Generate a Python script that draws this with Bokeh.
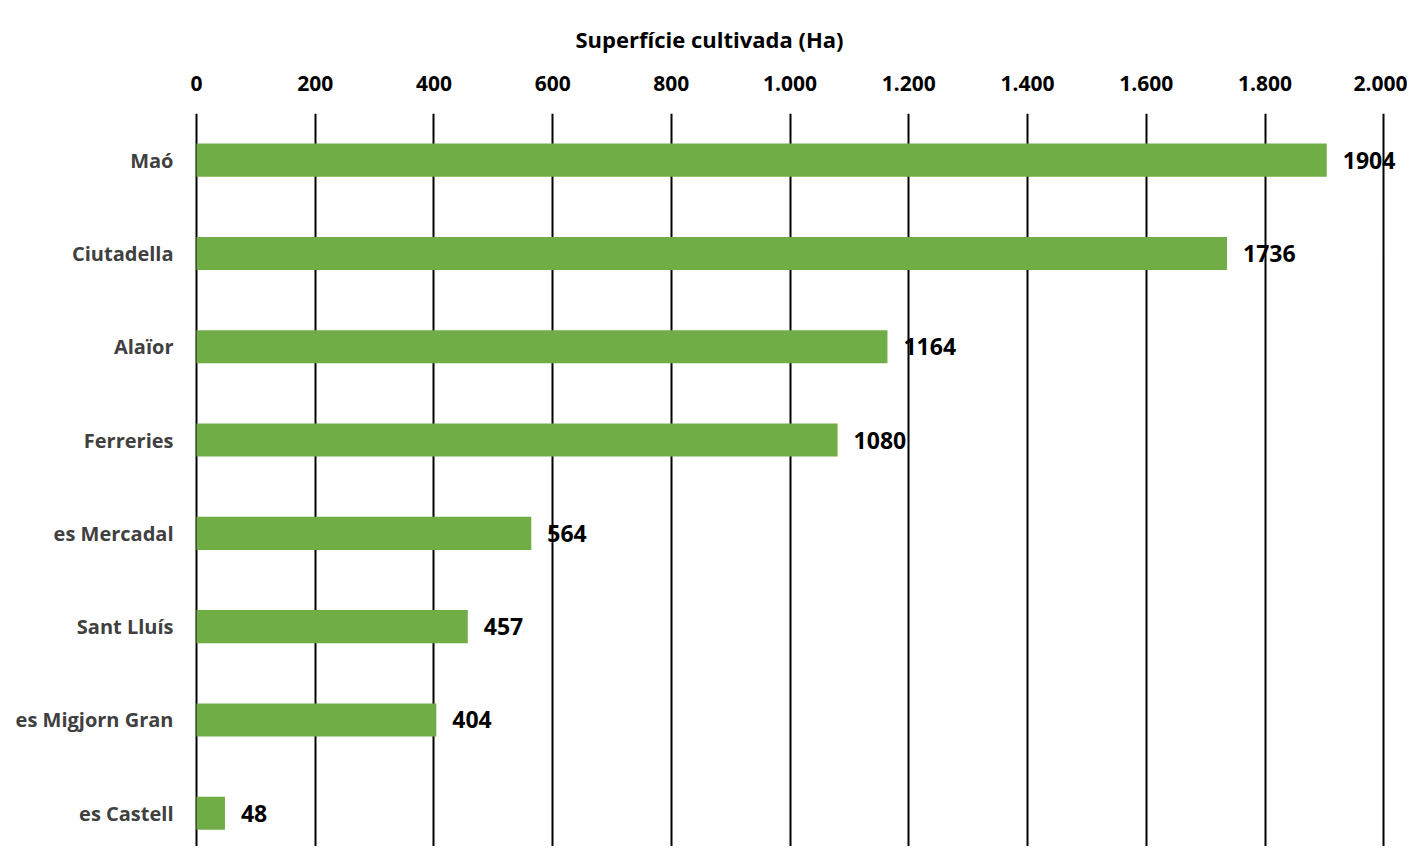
from bokeh.plotting import figure
from bokeh.models import ColumnDataSource, Range1d, FixedTicker, Title
from bokeh.core.properties import value
from bokeh.embed import file_html
from bokeh.resources import INLINE

municipis = ["Maó", "Ciutadella", "Alaïor", "Ferreries", "es Mercadal", "Sant Lluís", "es Migjorn Gran", "es Castell"]
superficie = [1904, 1736, 1164, 1080, 564, 457, 404, 48]
x_ticks = [0, 200, 400, 600, 800, 1000, 1200, 1400, 1600, 1800, 2000]
x_tick_labels = ["0", "200", "400", "600", "800", "1.000", "1.200", "1.400", "1.600", "1.800", "2.000"]
titol = "Superfície cultivada (Ha)"

FONT = "Open Sans"
GREEN = "#70AD47"

pos = list(range(len(municipis)))
src = ColumnDataSource(dict(y=pos, v=superficie, lab=[str(s) for s in superficie]))

W, H = 1407, 846
top_border = 113
slot = 93.3
frame_h = H - top_border
p = figure(width=W, height=H, output_backend="svg", toolbar_location=None,
           x_range=Range1d(-5, 2040),
           y_range=Range1d(-0.5 + frame_h / slot, -0.5),
           x_axis_location="above",
           min_border_left=193, min_border_right=0, min_border_top=top_border, min_border_bottom=0)
p.outline_line_color = None
p.background_fill_color = "white"
p.border_fill_color = "white"

p.title = Title(text=titol, align="left", offset=382, text_font=FONT, text_font_size="22px",
                text_font_style="bold", text_color="black", standoff=38)

p.hbar(y="y", left=0, right="v", height=0.355, source=src, color=GREEN, line_color=None)
t = p.text(x="v", y="y", text="lab", source=src, x_offset=16, text_baseline="middle", text_align="left",
           text_font=value(FONT), text_font_size="23px", text_font_style="bold", text_color="black")
t.level = "image"

xa = p.xaxis[0]
xa.ticker = FixedTicker(ticks=x_ticks)
xa.major_label_overrides = {k: l for k, l in zip(x_ticks, x_tick_labels)}
xa.major_tick_in = 0
xa.major_tick_out = 0
xa.minor_tick_in = 0
xa.minor_tick_out = 0
xa.axis_line_color = None
xa.major_label_standoff = 23
xa.major_label_text_font = FONT
xa.major_label_text_font_size = "21px"
xa.major_label_text_font_style = "bold"
xa.major_label_text_color = "black"

ya = p.yaxis[0]
ya.ticker = FixedTicker(ticks=pos)
ya.major_label_overrides = {i: m for i, m in zip(pos, municipis)}
ya.major_tick_in = 0
ya.major_tick_out = 0
ya.minor_tick_in = 0
ya.minor_tick_out = 0
ya.axis_line_color = None
ya.major_label_standoff = 20
ya.major_label_text_font = FONT
ya.major_label_text_font_size = "20px"
ya.major_label_text_font_style = "bold"
ya.major_label_text_color = "#404040"

p.xgrid.ticker = FixedTicker(ticks=x_ticks)
p.xgrid.grid_line_color = "black"
p.xgrid.grid_line_width = 2
p.ygrid.grid_line_color = None

open("out.html", "w").write(file_html(p, INLINE))
